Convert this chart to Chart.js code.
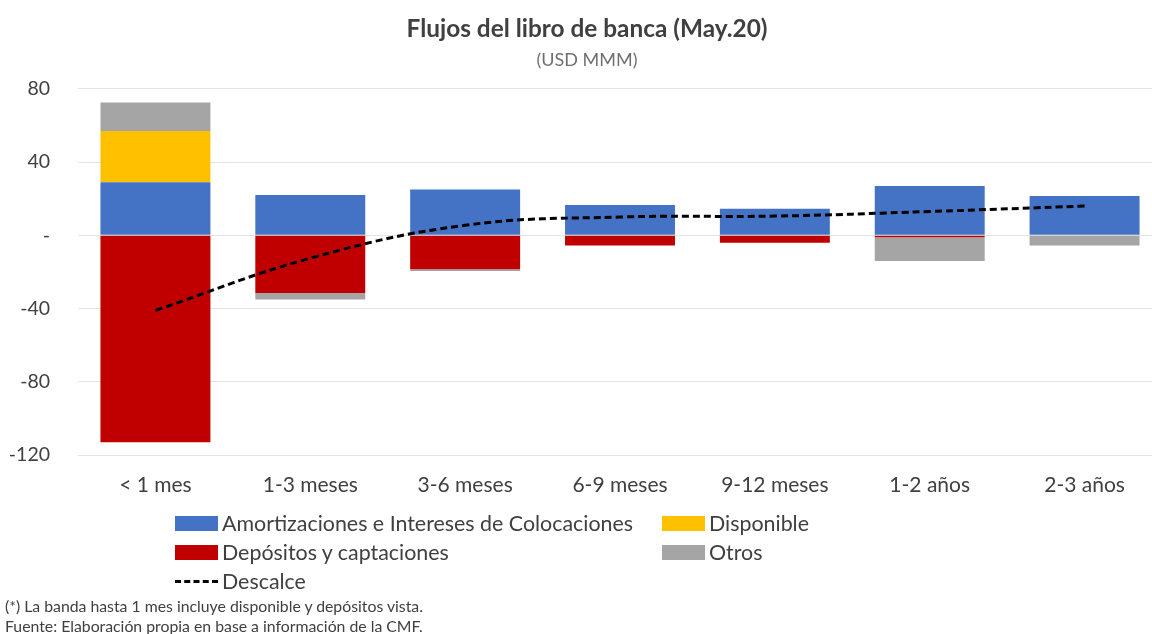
<!DOCTYPE html>
<html lang="es">
<head>
    <meta charset="UTF-8">
    <title>Flujos del libro de banca (May.20)</title>
    <script src="https://cdn.jsdelivr.net/npm/chart.js"></script>
    <style>
        html, body { margin: 0; padding: 0; background: #fff; overflow: hidden; }
        .wrap { position: relative; width: 1152px; height: 634px; overflow: hidden; font-family: Lato, "Liberation Sans", sans-serif; color: #404040; }
        canvas { position: absolute; left: 0; top: 0; }
        #legend { position: absolute; left: 175px; top: 511px; display: grid; grid-template-columns: 487px auto; row-gap: 5px; font-size: 21.4px; }
        #legend div { display: flex; align-items: center; height: 24px; white-space: nowrap; }
        #legend span.box { display: inline-block; width: 43px; height: 15px; margin-right: 4px; }
        #legend span.dash { display: inline-block; width: 43px; height: 0; border-top: 3px dashed #000; margin-right: 4px; }
        .note { position: absolute; left: 5px; font-size: 15.8px; line-height: 20px; color: #404040; }
    </style>
</head>
<body>
    <div class="wrap">
        <!-- plot runs slightly past the right edge, as in the original -->
        <canvas id="chart" width="1162" height="634"></canvas>
        <div id="legend"></div>
        <div class="note" style="top: 596px;">(*) La banda hasta 1 mes incluye disponible y depósitos vista.</div>
        <div class="note" style="top: 616px;">Fuente: Elaboración propia en base a información de la CMF.</div>
    </div>

    <script>
        const categories = ["< 1 mes", "1-3 meses", "3-6 meses", "6-9 meses", "9-12 meses", "1-2 años", "2-3 años"];
        const amortizaciones = [29, 22, 25, 16.5, 14.5, 27, 21.5];
        const disponible = [28, 0, 0, 0, 0, 0, 0];
        const depositos = [-113, -31.5, -18.5, -5.5, -4, -1, 0];
        const otros = [15.5, -3.5, -1, 0, 0, -13, -5.5];
        const descalce = [-41, -12.5, 5.5, 10, 10.5, 13, 16];
        const yTicks = [80, 40, 0, -40, -80, -120];

        const font = "Lato, 'Liberation Sans', sans-serif";

        function bar(label, data, color) {
            return { type: "bar", label: label, data: data, backgroundColor: color, stack: "flujos", order: 1,
                     barPercentage: 0.71, categoryPercentage: 1 };
        }

        // the title sits centred over the plot, a bit right of the canvas middle
        const shiftTitles = {
            id: "shiftTitles",
            afterLayout(chart) {
                chart.boxes.forEach(b => {
                    if (b.position === "top" && b.options && b.options.text) {
                        b.left += 6;
                        b.right += 6;
                    }
                });
            }
        };

        const chart = new Chart(document.getElementById("chart"), {
            data: {
                labels: categories,
                datasets: [
                    bar("Amortizaciones e Intereses de Colocaciones", amortizaciones, "#4472C4"),
                    bar("Disponible", disponible, "#FFC000"),
                    bar("Depósitos y captaciones", depositos, "#C00000"),
                    bar("Otros", otros, "#A5A5A5"),
                    {
                        type: "line", label: "Descalce", data: descalce, stack: "linea", order: 0,
                        borderColor: "#000", borderWidth: 3, borderDash: [7, 4],
                        pointRadius: 0, tension: 0.4, fill: false
                    }
                ]
            },
            plugins: [shiftTitles],
            options: {
                responsive: false,
                animation: false,
                layout: { padding: 0 },
                plugins: {
                    legend: { display: false },
                    tooltip: { enabled: false },
                    title: {
                        display: true, text: "Flujos del libro de banca (May.20)", color: "#404040",
                        font: { family: font, size: 24.4, weight: "bold" }, padding: { top: 15, bottom: 3 }
                    },
                    subtitle: {
                        display: true, text: "(USD MMM)", color: "#707070",
                        font: { family: font, size: 18 }, padding: { top: 2, bottom: 18 }
                    }
                },
                scales: {
                    x: {
                        stacked: true,
                        grid: { display: false, drawTicks: false },
                        border: { display: false },
                        ticks: { color: "#404040", font: { family: font, size: 21 }, padding: 18 },
                        afterFit: s => { s.height = 179; }
                    },
                    y: {
                        stacked: true, min: -120, max: 80,
                        afterBuildTicks: s => { s.ticks = yTicks.map(v => ({ value: v })); },
                        grid: { color: "#E3E3E3", drawTicks: false },
                        border: { display: false },
                        ticks: {
                            color: "#404040", font: { family: font, size: 19.5 }, padding: 28,
                            callback: v => v === 0 ? "-" : v
                        },
                        afterFit: s => { s.width = 78; }
                    }
                }
            }
        });

        // legend built from the chart's datasets
        const legend = document.getElementById("legend");
        chart.data.datasets.forEach(ds => {
            const item = document.createElement("div");
            const mark = document.createElement("span");
            if (ds.type === "line") {
                mark.className = "dash";
            } else {
                mark.className = "box";
                mark.style.background = ds.backgroundColor;
            }
            item.appendChild(mark);
            item.appendChild(document.createTextNode(ds.label));
            legend.appendChild(item);
        });
    </script>
</body>
</html>
